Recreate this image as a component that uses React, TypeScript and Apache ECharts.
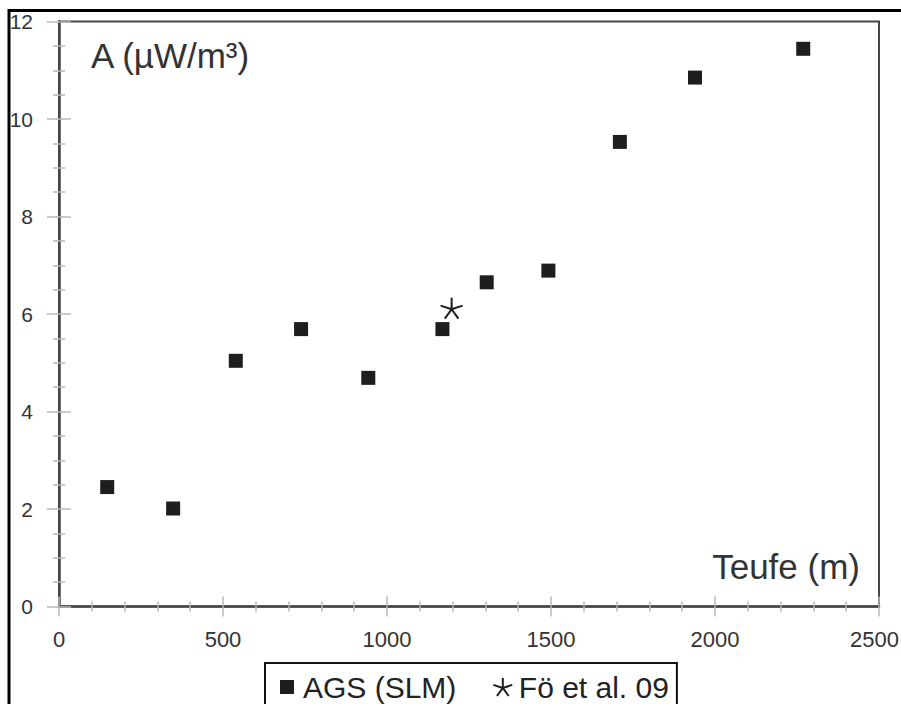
import React, { useEffect, useRef } from "react";
import * as echarts from "echarts";

const depthAGS = [147, 348, 539, 738, 943, 1169, 1304, 1492, 1710, 1939, 2269];
const valueAGS = [2.45, 2.01, 5.04, 5.69, 4.69, 5.69, 6.65, 6.89, 9.53, 10.85, 11.44];
const depthFoe = [1197];
const valueFoe = [6.12];
const seriesNames = ["AGS (SLM)", "Fö et al. 09"];
const yTitle = "A (µW/m³)";
const xTitle = "Teufe (m)";

const FONT = "'Liberation Sans', Arial, Helvetica, sans-serif";
const STAR =
  "path://M0 0L0 -10M0 0L9.51 -3.09M0 0L5.88 8.09M0 0L-5.88 8.09M0 0L-9.51 -3.09";
const SQUARE_ICON = "path://M-2 -2M16 16M0 0L14 0L14 14L0 14Z";

export default function App() {
  const ref = useRef<HTMLDivElement>(null);
  useEffect(() => {
    if (!ref.current) return;
    const chart = echarts.init(ref.current, null, { renderer: "svg" });
    const axisLineColor = "#444";
    const tickColor = "#b8b8b8";
    const plainFmt = (v: number) => String(v);
    const xFmt = (v: number) => (v === 2500 ? "{e|" + v + "}" : String(v));
    const xBase = {
      type: "value",
      min: 0,
      max: 2500,
      interval: 500,
      position: "bottom",
      splitLine: { show: false },
    };
    const yBase = {
      type: "value",
      min: 0,
      max: 12,
      interval: 2,
      position: "left",
      splitLine: { show: false },
    };
    chart.setOption({
      animation: false,
      backgroundColor: "#fff",
      textStyle: { fontFamily: FONT },
      grid: {
        left: 59,
        top: 21.5,
        right: 22,
        bottom: 97.5,
        outerBoundsMode: "none",
        containLabel: false,
        show: true,
        borderColor: axisLineColor,
        borderWidth: 2,
        backgroundColor: "transparent",
      },
      title: [
        {
          text: yTitle,
          left: 91,
          top: 38,
          padding: 0,
          textStyle: { fontSize: 35, fontWeight: "normal", color: "#333", fontFamily: FONT },
        },
        {
          text: xTitle,
          right: 41,
          top: 549,
          padding: 0,
          textStyle: { fontSize: 35, fontWeight: "normal", color: "#333", fontFamily: FONT },
        },
      ],
      xAxis: [
        {
          ...xBase,
          axisLine: { show: true, lineStyle: { color: axisLineColor, width: 2.5 } },
          axisTick: { show: true, inside: false, length: 10, lineStyle: { color: tickColor, width: 1.5 } },
          minorTick: { show: true, splitNumber: 5, length: 5, lineStyle: { color: tickColor, width: 1.5 } },
          axisLabel: {
            margin: 22,
            fontSize: 22,
            color: "#333",
            fontFamily: FONT,
            formatter: xFmt,
            rich: { e: { fontSize: 22, color: "#333", fontFamily: FONT, padding: [0, 9, 0, 0] } },
          },
        },
        {
          ...xBase,
          axisLine: { show: false },
          axisTick: { show: true, inside: true, length: 10, lineStyle: { color: tickColor, width: 1.5 } },
          minorTick: { show: true, splitNumber: 5, length: 5, lineStyle: { color: tickColor, width: 1.5 } },
          axisLabel: { show: false },
        },
      ],
      yAxis: [
        {
          ...yBase,
          axisLine: { show: true, lineStyle: { color: axisLineColor, width: 2.5 } },
          axisTick: { show: true, inside: false, length: 12, lineStyle: { color: tickColor, width: 1.5 } },
          minorTick: { show: true, splitNumber: 4, length: 6, lineStyle: { color: tickColor, width: 1.5 } },
          axisLabel: { margin: 26, fontSize: 21, color: "#333", fontFamily: FONT, formatter: plainFmt },
        },
        {
          ...yBase,
          axisLine: { show: false },
          axisTick: { show: true, inside: true, length: 12, lineStyle: { color: tickColor, width: 1.5 } },
          minorTick: { show: true, splitNumber: 4, length: 6, lineStyle: { color: tickColor, width: 1.5 } },
          axisLabel: { show: false },
        },
      ],
      legend: {
        left: 265,
        top: 663,
        orient: "horizontal",
        padding: [9, 8, 30, 13],
        itemGap: 36,
        itemWidth: 22,
        itemHeight: 18,
        borderColor: "#111",
        borderWidth: 2,
        backgroundColor: "#fff",
        textStyle: { fontSize: 30, color: "#222", fontFamily: FONT },
        data: [
          { name: seriesNames[0], icon: SQUARE_ICON },
          { name: seriesNames[1], icon: STAR },
        ],
      },
      graphic: [
        {
          type: "rect",
          shape: { x: 9, y: 10.5, width: 1000, height: 1000 },
          style: { fill: "none", stroke: "#000", lineWidth: 3 },
          silent: true,
          z: 100,
        },
      ],
      series: [
        {
          name: seriesNames[0],
          type: "scatter",
          xAxisIndex: 0,
          yAxisIndex: 0,
          symbol: "rect",
          symbolSize: 14,
          itemStyle: { color: "#1e1e1e", opacity: 1 },
          data: depthAGS.map((d, i) => [d, valueAGS[i]]),
        },
        {
          name: seriesNames[1],
          type: "scatter",
          xAxisIndex: 0,
          yAxisIndex: 0,
          symbol: STAR,
          symbolSize: [22, 21],
          itemStyle: { color: "#1e1e1e", borderColor: "#1e1e1e", borderWidth: 2, opacity: 1 },
          data: depthFoe.map((d, i) => [d, valueFoe[i]]),
        },
      ],
    });
    return () => chart.dispose();
  }, []);
  return (
    <div
      ref={ref}
      style={{ position: "fixed", left: 0, top: 0, width: 901, height: 704 }}
    />
  );
}
